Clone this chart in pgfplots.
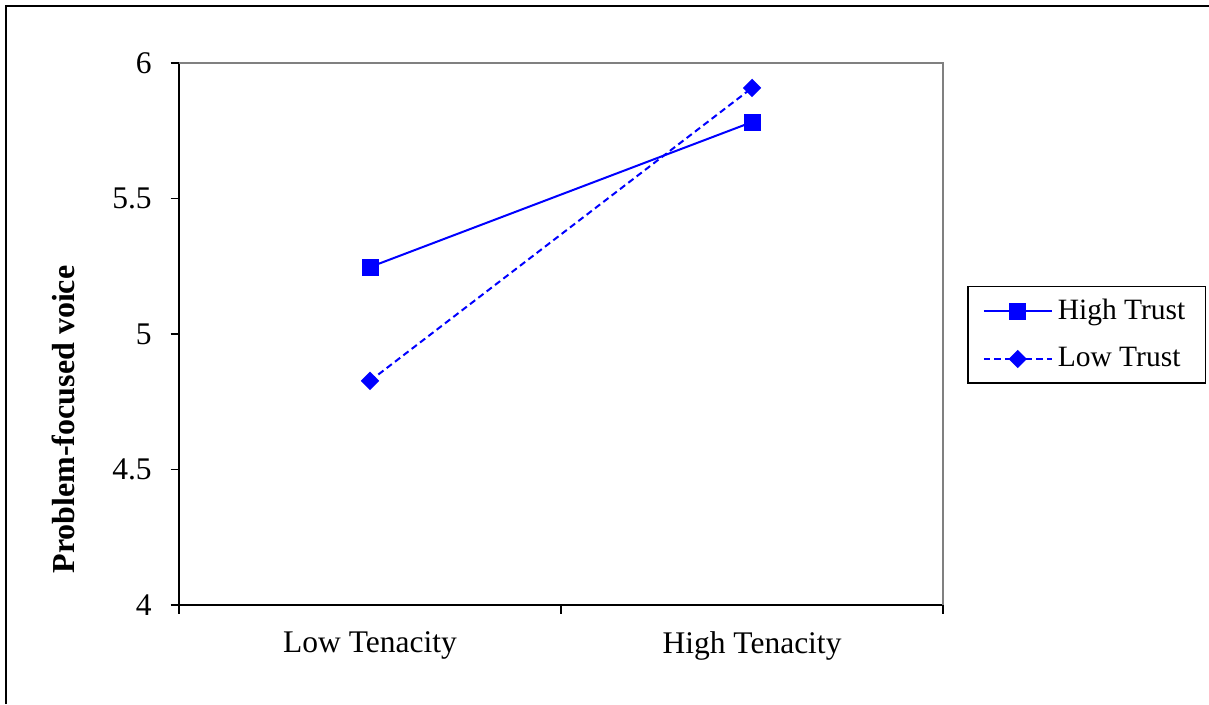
\documentclass[border=0pt]{standalone}
\usepackage{pgfplots}
\pgfplotsset{compat=1.18}
\usepackage{fontspec}
\setmainfont{Liberation Serif}
\begin{document}
\begin{tikzpicture}
\useasboundingbox (0,0) rectangle (483.6pt,281.6pt);
\draw[black, line width=0.6pt] (2.4pt,0pt) -- (2.4pt,279.2pt) -- (483.6pt,279.2pt);
\begin{axis}[
  at={(71.6pt,39.6pt)}, anchor=south west,
  scale only axis, width=305.6pt, height=216.8pt,
  xmin=0, xmax=2, ymin=4, ymax=6,
  axis x line*=bottom, axis y line*=left,
  axis line style={line width=0.6pt, -},
  tick align=outside, major tick length=3.4pt,
  tick style={black, line width=0.5pt},
  xtick={0,1,2}, xticklabels={},
  extra x ticks={0.5,1.5},
  extra x tick labels={Low Tenacity, High Tenacity},
  extra x tick style={major tick length=0pt, xticklabel style={yshift=-7.2pt}},
  ytick={4,4.5,5,5.5,6},
  yticklabels={4,4.5,5,5.5,6},
  yticklabel style={xshift=-4pt},
  /pgf/number format/assume math mode=true,
  tick label style={font=\fontsize{12.6}{15}\selectfont},
  legend style={at={(1.0314,0.5886)}, anchor=north west, draw=black, line width=0.6pt,
    font=\fontsize{11.8}{14}\selectfont, row sep=5.6pt, inner xsep=6pt, inner ysep=3pt},
  legend cell align=left,
  legend image code/.code={\draw[mark repeat=2,mark phase=2,#1] plot coordinates {(0pt,0pt) (13.6pt,0pt) (27.2pt,0pt)};},
  clip=false,
]
\draw[gray, line width=0.8pt] (rel axis cs:0,1) -- (rel axis cs:1,1) -- (rel axis cs:1,0);
\addplot[blue, line width=0.8pt, mark=square*, mark size=3pt, mark options={solid}] coordinates {(0.5,5.247) (1.5,5.782)};
\addlegendentry{High Trust}
\addplot[blue, line width=0.8pt, dash pattern=on 2.6pt off 1.6pt, mark=square*, mark size=2.2pt, mark options={solid, rotate=45}] coordinates {(0.5,4.827) (1.5,5.908)};
\addlegendentry{Low Trust}
\end{axis}
\node[rotate=90, font=\bfseries\fontsize{12.8}{15}\selectfont] at (25.2pt,113.8pt) {Problem-focused voice};
\end{tikzpicture}
\end{document}
